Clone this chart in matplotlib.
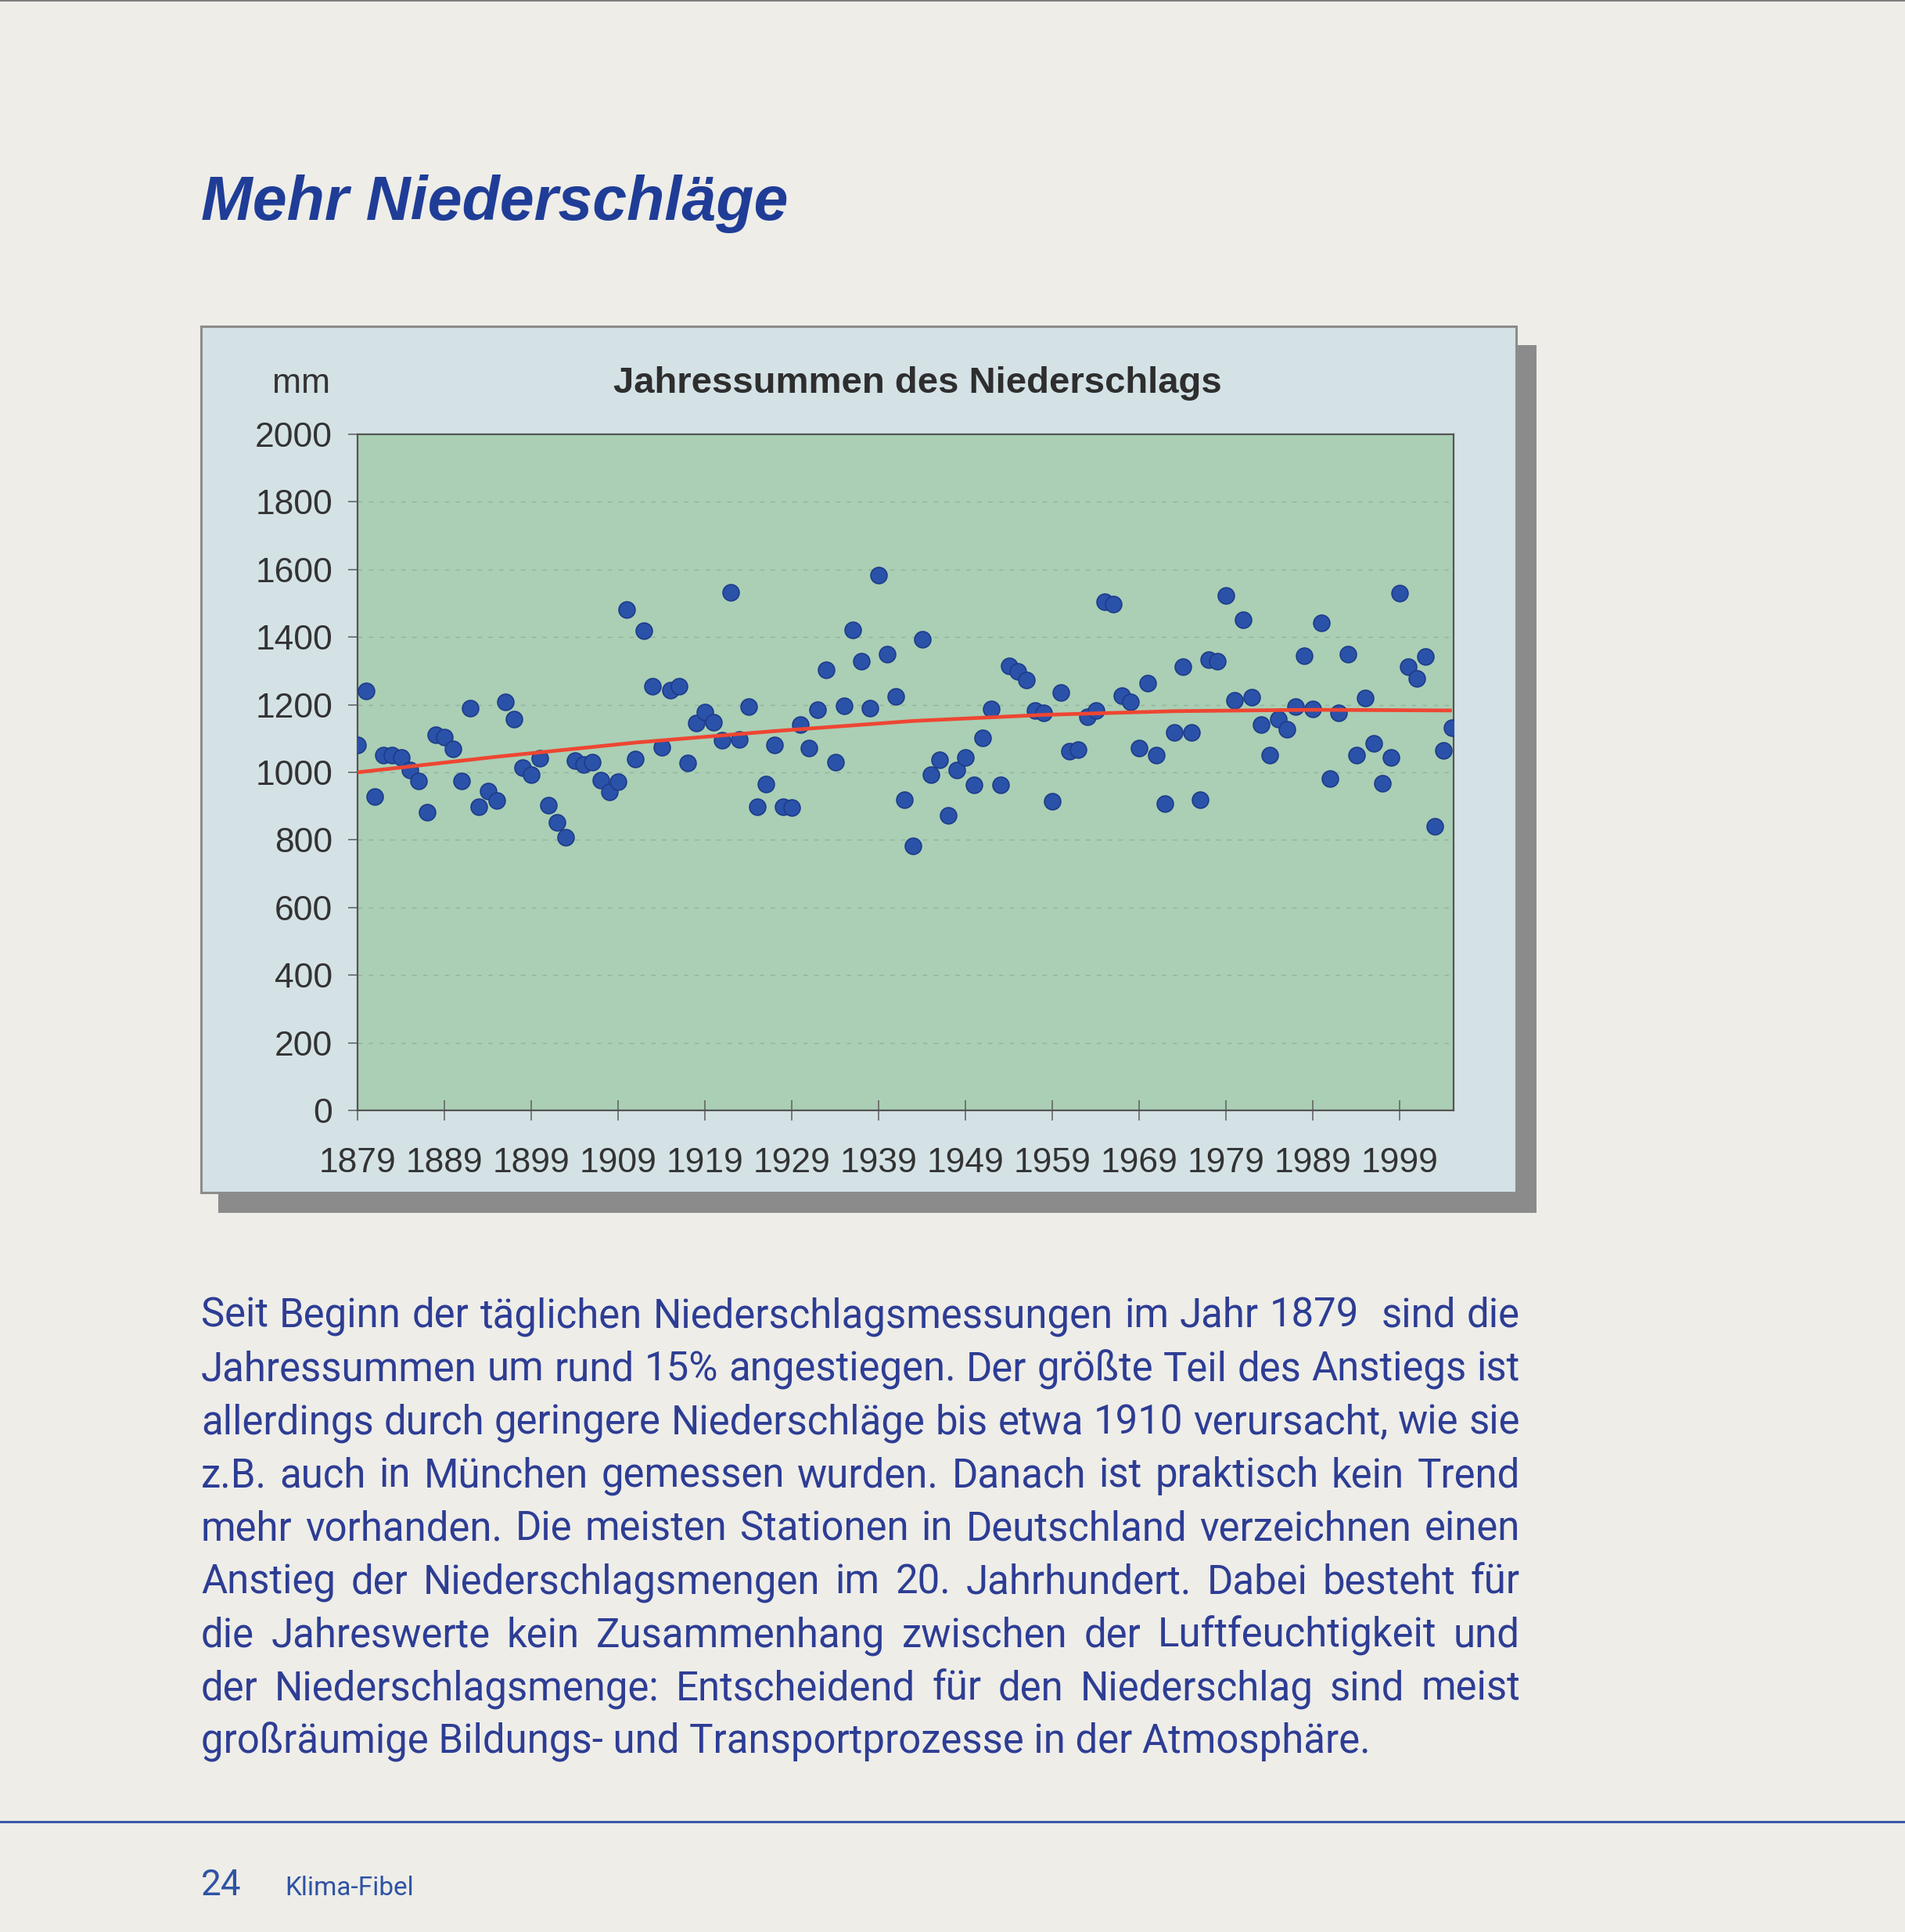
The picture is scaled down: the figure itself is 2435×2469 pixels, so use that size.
import matplotlib
matplotlib.use("Agg")
import matplotlib.pyplot as plt
from matplotlib.patches import Rectangle

W, H = 2435, 2469

# annual precipitation totals (mm)
years = list(range(1879, 2006))
values = [
    1082, 1240, 928, 1050, 1050, 1044, 1008, 975, 883, 1110,
    1104, 1069, 975, 1190, 898, 944, 917, 1208, 1158, 1015,
    992, 1042, 902, 852, 809, 1035, 1022, 1031, 977, 942,
    973, 1482, 1040, 1418, 1255, 1074, 1243, 1255, 1028, 1145,
    1179, 1148, 1096, 1532, 1098, 1194, 898, 966, 1082, 898,
    895, 1141, 1072, 1185, 1304, 1031, 1197, 1422, 1329, 1189,
    1583, 1350, 1225, 918, 782, 1393, 992, 1037, 873, 1006,
    1045, 962, 1101, 1187, 964, 1314, 1298, 1272, 1183, 1175,
    914, 1236, 1062, 1067, 1164, 1183, 1505, 1498, 1228, 1208,
    1071, 1263, 1050, 907, 1118, 1313, 1119, 919, 1333, 1328,
    1522, 1214, 1452, 1222, 1142, 1052, 1158, 1127, 1195, 1346,
    1187, 1441, 982, 1176, 1350, 1050, 1221, 1085, 967, 1044,
    1531, 1312, 1277, 1342, 841, 1065, 1133,
]

trend_years = [1879, 1895, 1911, 1927, 1943, 1958, 1973, 1989, 2005]
trend_vals = [1000, 1046, 1088, 1122, 1152, 1170, 1181, 1185, 1183]

x_ticks = list(range(1879, 2000, 10))
y_ticks = list(range(0, 2001, 200))

title = "Mehr Niederschläge"
chart_title = "Jahressummen des Niederschlags"
body_lines = [
    "Seit Beginn der täglichen Niederschlagsmessungen im Jahr 1879  sind die",
    "Jahressummen um rund 15% angestiegen. Der größte Teil des Anstiegs ist",
    "allerdings durch geringere Niederschläge bis etwa 1910 verursacht, wie sie",
    "z.B. auch in München gemessen wurden. Danach ist praktisch kein Trend",
    "mehr vorhanden. Die meisten Stationen in Deutschland verzeichnen einen",
    "Anstieg der Niederschlagsmengen im 20. Jahrhundert. Dabei besteht für",
    "die Jahreswerte kein Zusammenhang zwischen der Luftfeuchtigkeit und",
    "der Niederschlagsmenge: Entscheidend für den Niederschlag sind meist",
    "großräumige Bildungs- und Transportprozesse in der Atmosphäre.",
]

PAGE = "#eeede8"
BLUE_TXT = "#2d3d94"
plt.rcParams["font.family"] = ["Liberation Sans", "DejaVu Sans"]
BODY_FONT = ["Roboto", "DejaVu Sans"]

fig = plt.figure(figsize=(W / 100, H / 100), dpi=100, facecolor=PAGE)
renderer = fig.canvas.get_renderer()


def fx(x):
    return x / W


def fy(y):
    return 1 - y / H


def rect(x0, y0, x1, y1, **kw):
    fig.add_artist(Rectangle((fx(x0), fy(y1)), fx(x1) - fx(x0), fy(y0) - fy(y1),
                             transform=fig.transFigure, **kw))


# thin scan edge at the very top
fig.add_artist(plt.Line2D([0, 1], [fy(1), fy(1)], transform=fig.transFigure,
                          color="#6a6a6a", linewidth=1.2))

# panel with drop shadow
rect(279, 441, 1964, 1550, facecolor="#8b8b8b", edgecolor="none", zorder=0)
rect(257, 417, 1938, 1524, facecolor="#d4e2e6", edgecolor="#8c8c8c", linewidth=2.2, zorder=1)

# plot area
ax = fig.add_axes([fx(457), fy(1419), fx(1858) - fx(457), fy(555) - fy(1419)], zorder=2)
ax.set_facecolor("#aacfb5")
ax.set_xlim(1879, 2005.2)
ax.set_ylim(0, 2000)
for y in y_ticks[1:-1]:
    ax.axhline(y, color="#92b19c", linewidth=1.0, linestyle=(0, (4, 6)), zorder=1)
ax.scatter(years, values, s=225, color="#2b52a9", edgecolors="#1d3c8a", linewidths=1.2, zorder=3)
ax.plot(trend_years, trend_vals, color="#ee4632", linewidth=3.4, zorder=4, solid_capstyle="butt")

for sp in ax.spines.values():
    sp.set_color("#555555")
    sp.set_linewidth(1.6)
ax.set_xticks(x_ticks)
ax.set_yticks(y_ticks)
ax.tick_params(axis="x", direction="inout", length=19, width=1.2, color="#666666",
               labelsize=32, labelcolor="#333333", pad=24)
ax.tick_params(axis="y", direction="out", length=9, width=1.2, color="#666666",
               labelsize=32, labelcolor="#333333", pad=14)

fig.text(fx(422), fy(490), "mm", ha="right", va="center", fontsize=32, color="#333333")
fig.text(fx(1173), fy(490), chart_title, ha="center", va="center", fontsize=34,
         fontweight="bold", color="#2e2e2e")

# page title, sized to its width in the reference
t = fig.text(fx(257), fy(281), title, ha="left", va="baseline", fontsize=50,
             fontweight="bold", fontstyle="italic", color="#1f3d97")
w = t.get_window_extent(renderer).width
t.set_fontsize(50 * 751 / w)

# body text, justified between x=257 and x=1943
probe = fig.text(0, 0, body_lines[-1], fontsize=30, family=BODY_FONT)
size = 30 * 1491 / probe.get_window_extent(renderer).width
probe.remove()
x0, x1 = 257, 1943
for i, line in enumerate(body_lines):
    yb = 1696 + i * 68.1
    if i == len(body_lines) - 1:
        fig.text(fx(x0), fy(yb), line, ha="left", va="baseline", fontsize=size,
                 color=BLUE_TXT, family=BODY_FONT)
        continue
    words = line.split(" ")
    texts = [fig.text(0, 0, wd, ha="left", va="baseline", fontsize=size, color=BLUE_TXT,
                      family=BODY_FONT) for wd in words]
    widths = [tx.get_window_extent(renderer).width if wd else 0 for tx, wd in zip(texts, words)]
    gap = (x1 - x0 - sum(widths)) / (len(words) - 1)
    x = x0
    for tx, wd in zip(texts, widths):
        tx.set_position((fx(x), fy(yb)))
        x += wd + gap

# footer
fig.add_artist(plt.Line2D([0, 1], [fy(2328), fy(2328)], transform=fig.transFigure,
                          color="#3b58a6", linewidth=2.2))
fig.text(fx(257), fy(2422), "24", ha="left", va="baseline", fontsize=33, color="#2f53a4",
         family=BODY_FONT)
fig.text(fx(364), fy(2422), "Klima-Fibel", ha="left", va="baseline", fontsize=24, color="#2f53a4",
         family=BODY_FONT)

fig.savefig("out.png", dpi=100, facecolor=PAGE)
